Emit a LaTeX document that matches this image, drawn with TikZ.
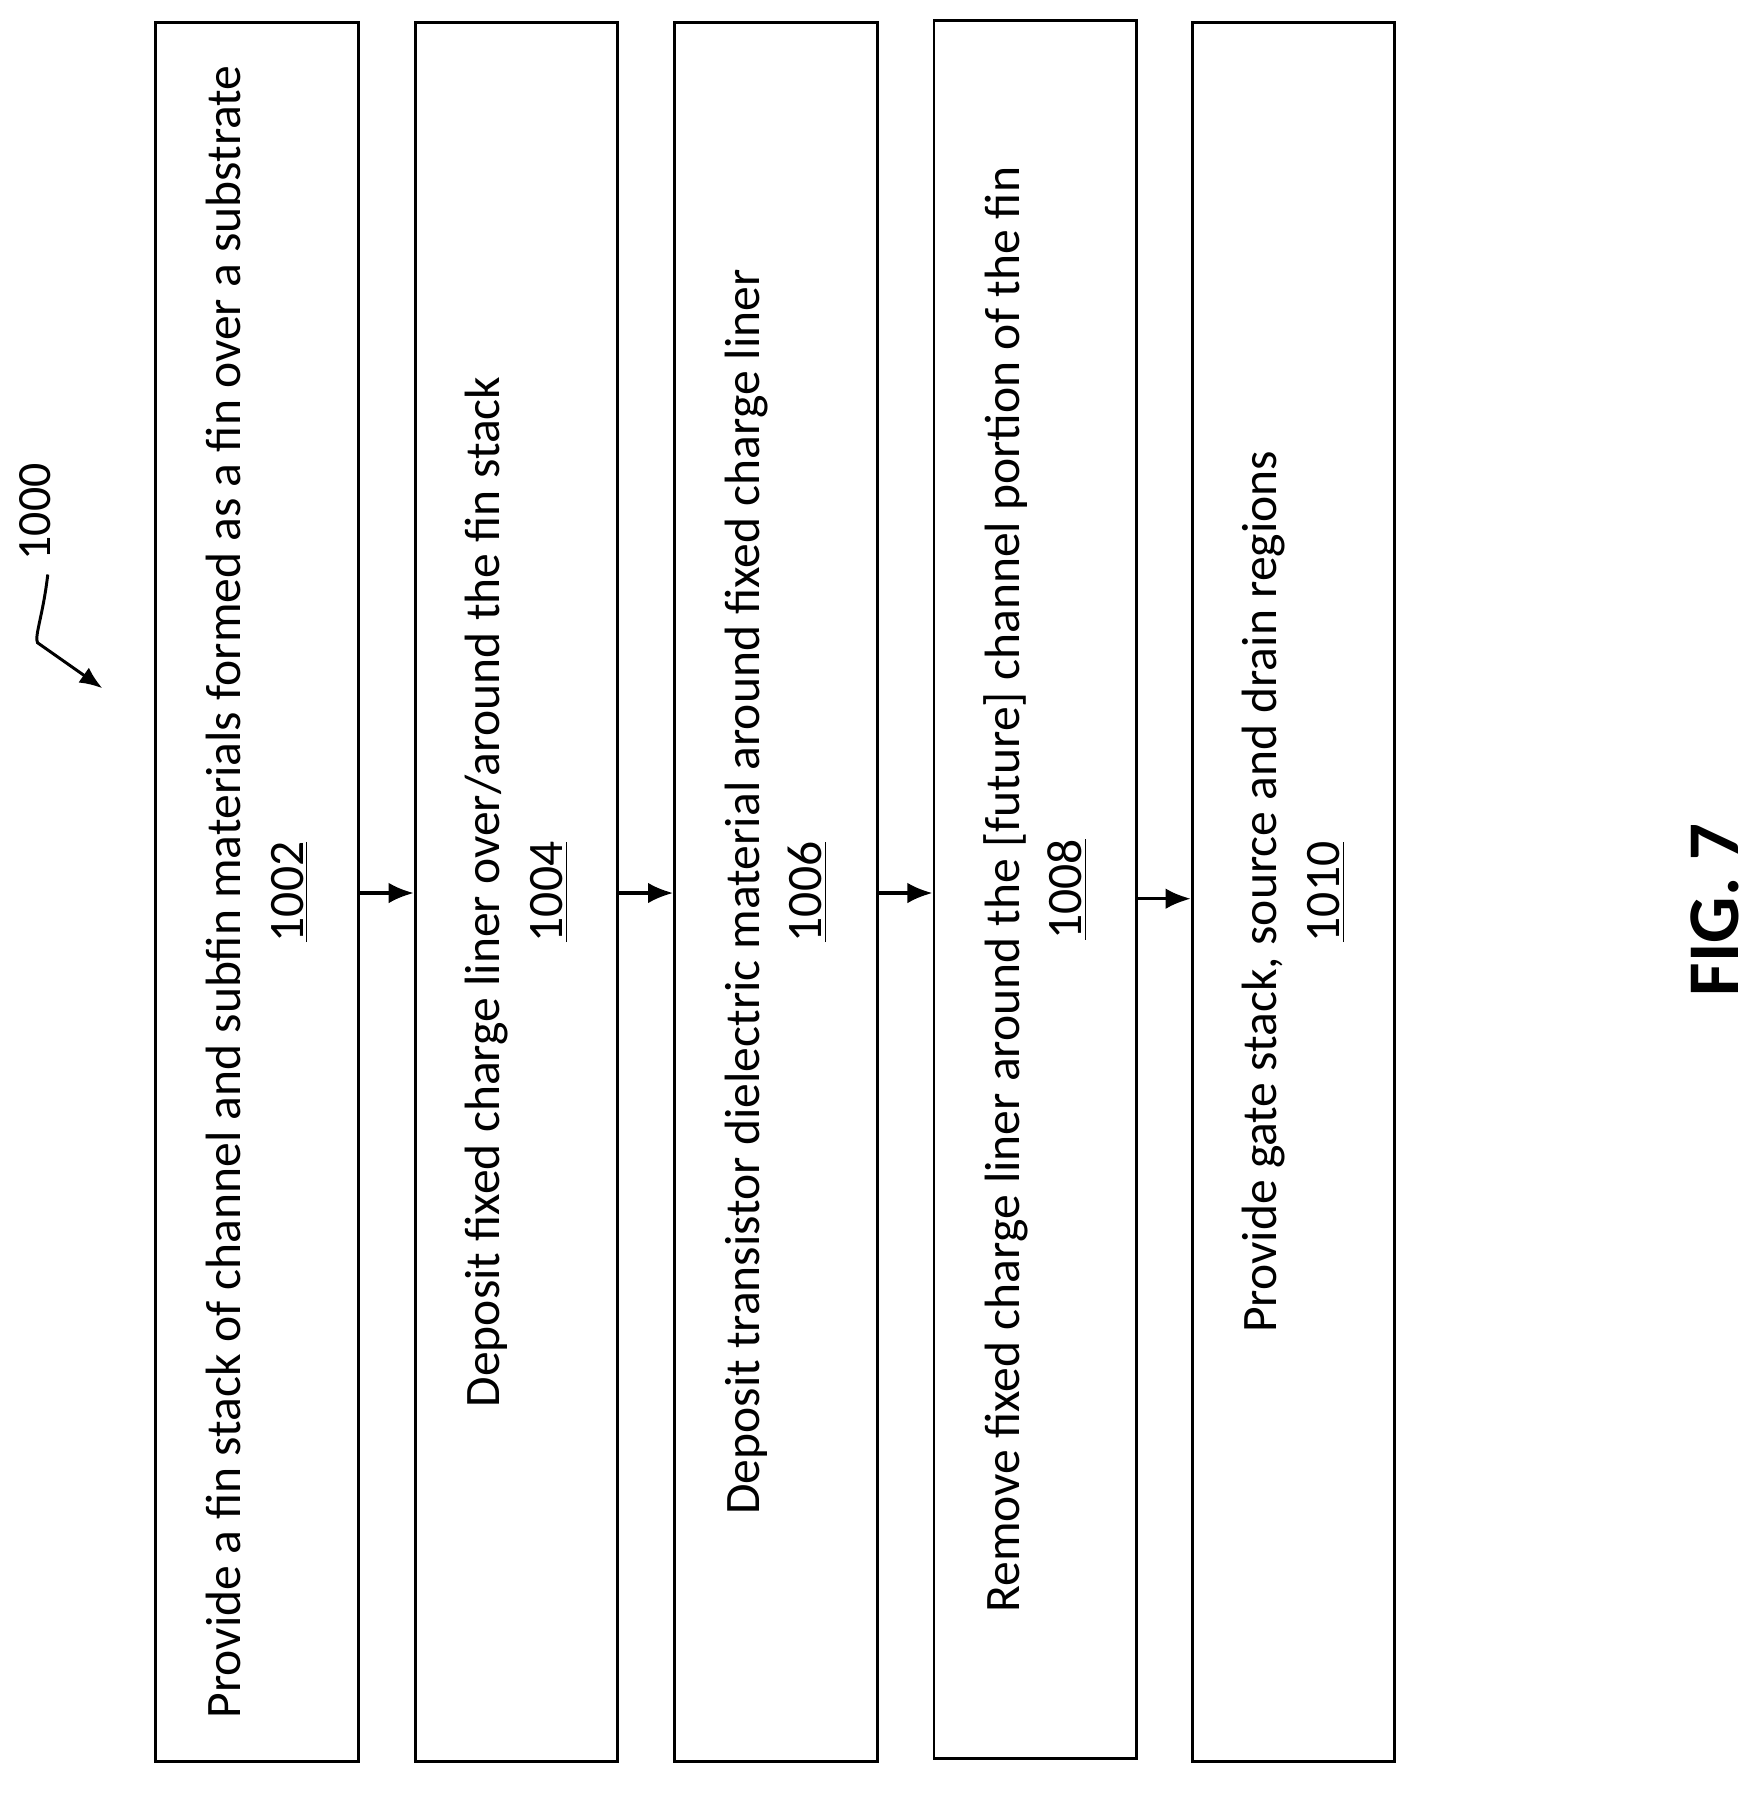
\documentclass[tikz,border=0pt]{standalone}
\usepackage{fontspec}
\setmainfont{Carlito}
\usetikzlibrary{arrows.meta}
\begin{document}
\begin{tikzpicture}[x=0.5pt,y=-0.5pt,
  box/.style={draw,line width=1.3pt,minimum width=89pt,minimum height=764pt,inner sep=0pt},
  txt/.style={rotate=90,align=center,font=\fontsize{21.8}{27.5}\selectfont},
  arr/.style={-{Latex[length=11pt,width=9pt]},line width=1.4pt}]
\useasboundingbox (0,0) rectangle (1550,1577);
\node[box] (b1) at (226,784) {};
\node[box] (b2) at (454,784) {};
\node[box] (b3) at (682,784) {};
\node[box] (b4) at (910,782) {};
\node[box] (b5) at (1137,784) {};
\node[txt] (t1) at (b1) {Provide a fin stack of channel and subfin materials formed as a fin over a substrate\\\underline{1002}};
\node[txt] (t2) at (b2) {Deposit fixed charge liner over/around the fin stack\\\underline{1004}};
\node[txt] (t3) at (b3) {Deposit transistor dielectric material around fixed charge liner\\\underline{1006}};
\node[txt] (t4) at (b4) {Remove fixed charge liner around the [future] channel portion of the fin\\\underline{1008}};
\node[txt] (t5) at (b5) {Provide gate stack, source and drain regions\\\underline{1010}};
\draw[arr] (b1.east |- 0,785) -- (b2.west |- 0,785);
\draw[arr] (b2.east |- 0,785) -- (b3.west |- 0,785);
\draw[arr] (b3.east |- 0,785) -- (b4.west |- 0,785);
\draw[arr] (b4.east |- 0,790) -- (b5.west |- 0,790);
\node[rotate=90,font=\fontsize{21}{22}\selectfont] (lbl) at (31,450) {1000};
\coordinate (c1) at (42,505);
\coordinate (c2) at (90,605);
\draw[-{Latex[length=10pt,width=8pt]},line width=1.3pt] (c1) .. controls (38,540) and (30,560) .. (33,565) -- (c2);
\node[rotate=90,font=\fontsize{32}{34}\selectfont\bfseries] (fig) at (1507,800) {FIG. 7};
\end{tikzpicture}
\end{document}
